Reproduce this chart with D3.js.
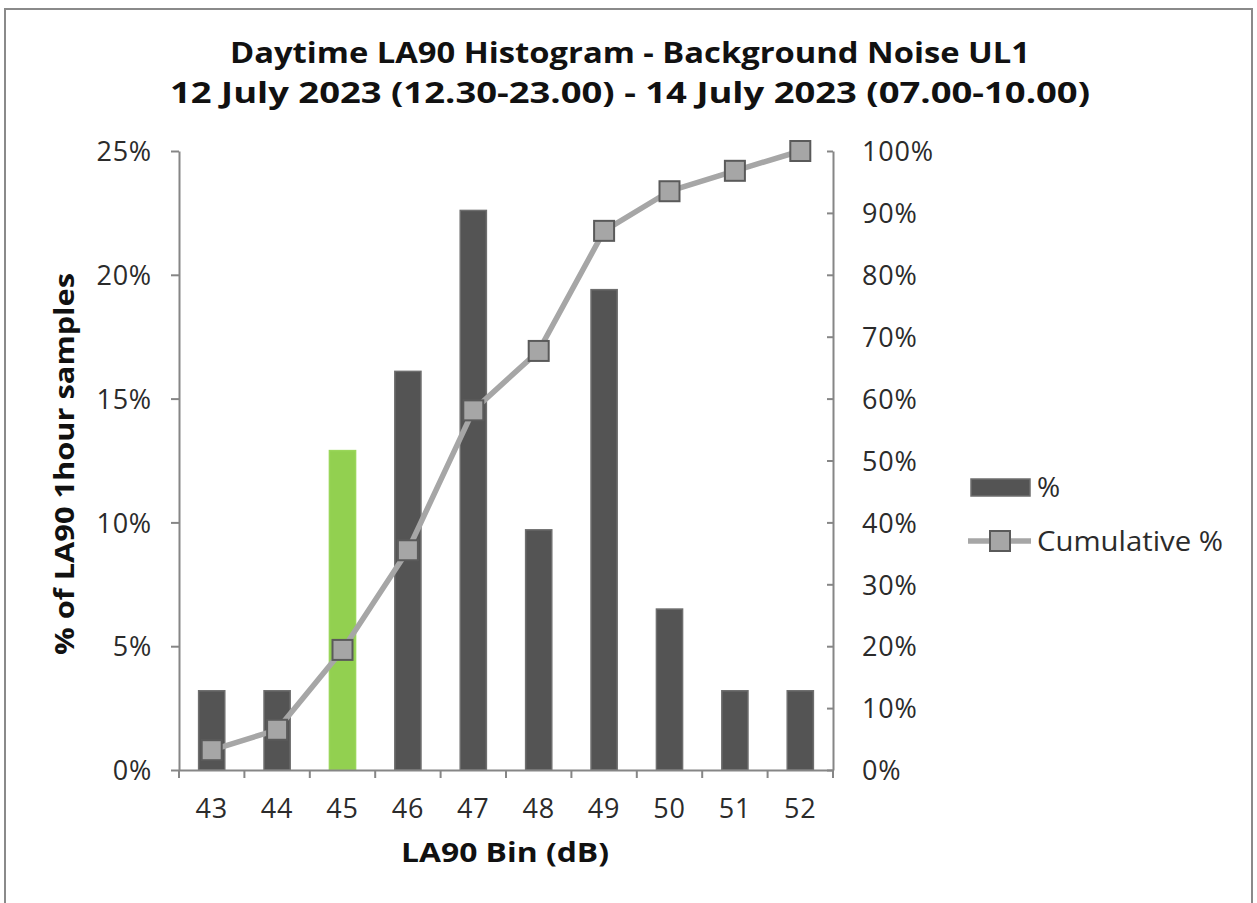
<!DOCTYPE html>
<html>
<head>
<meta charset="utf-8">
<script src="https://cdn.jsdelivr.net/npm/d3@7"></script>
<style>
  html, body { margin: 0; padding: 0; background: #fff; }
  svg { display: block; }
</style>
</head>
<body>
<svg id="chart" width="1257" height="903"></svg>
<script>
// LA90 bins (dB) and share of 1-hour samples per bin
const bins = ["43", "44", "45", "46", "47", "48", "49", "50", "51", "52"];
const pct = [3.2, 3.2, 12.9, 16.1, 22.6, 9.7, 19.4, 6.5, 3.2, 3.2];
const cumulative = [3.2, 6.5, 19.4, 35.5, 58.1, 67.7, 87.1, 93.5, 96.8, 100];
const highlightBin = "45";
const leftTicks = [0, 5, 10, 15, 20, 25];
const rightTicks = [0, 10, 20, 30, 40, 50, 60, 70, 80, 90, 100];
const titleLines = ["Daytime LA90 Histogram - Background Noise UL1",
                    "12 July 2023 (12.30-23.00) - 14 July 2023 (07.00-10.00)"];

const svg = d3.select("#chart");
const axisGrey = "#868686";
const textCol = "#2b2b2b";
const tickFont = "'Open Sans', Lato, sans-serif";
const boldFont = "'Open Sans', Lato, sans-serif";
const tickSize = 27;

// outer chart frame
svg.append("rect")
  .attr("x", 5).attr("y", 9).attr("width", 1247).attr("height", 910)
  .attr("fill", "#fff").attr("stroke", "#8a8a8a").attr("stroke-width", 2);

const plot = { left: 179, right: 833, top: 151, bottom: 770 };

const x = d3.scaleBand().domain(bins).range([plot.left, plot.right]).paddingInner(0.6).paddingOuter(0.3);
const xBand = d3.scaleBand().domain(bins).range([plot.left, plot.right]);
const yL = d3.scaleLinear().domain([0, 25]).range([plot.bottom, plot.top]);
const yR = d3.scaleLinear().domain([0, 100]).range([plot.bottom, plot.top]);

// title
svg.append("g").selectAll("text").data(titleLines).join("text")
  .attr("x", 630).attr("y", (d, i) => i === 0 ? 63 : 103)
  .attr("text-anchor", "middle")
  .attr("font-family", boldFont).attr("font-weight", 700)
  .attr("font-size", 28).attr("fill", "#111")
  .attr("textLength", (d, i) => i === 0 ? 800 : 920)
  .attr("lengthAdjust", "spacingAndGlyphs")
  .text(d => d);

// bars
svg.append("g").selectAll("rect").data(bins).join("rect")
  .attr("x", d => x(d))
  .attr("width", x.bandwidth())
  .attr("y", (d, i) => yL(pct[i]))
  .attr("height", (d, i) => yL(0) - yL(pct[i]))
  .attr("fill", d => d === highlightBin ? "#92d050" : "#545454")
  .attr("stroke", d => d === highlightBin ? "#9ad65a" : "#6e6e6e")
  .attr("stroke-width", 1.5);

// left axis
const leftAxis = svg.append("g").attr("transform", `translate(${plot.left},0)`)
  .call(d3.axisLeft(yL).tickValues(leftTicks).tickFormat(d => d + "%").tickSize(8).tickPadding(19).tickSizeOuter(0));
// right axis (ticks drawn towards the plot)
const rightAxis = svg.append("g").attr("transform", `translate(${plot.right},0)`)
  .call(d3.axisRight(yR).tickValues(rightTicks).tickFormat(d => d + "%").tickSize(-6).tickPadding(29).tickSizeOuter(0));
// bottom axis with ticks on category boundaries
const bottomAxis = svg.append("g").attr("transform", `translate(0,${plot.bottom})`)
  .call(d3.axisBottom(x).tickSize(0).tickPadding(0));
bottomAxis.append("g").selectAll("line").data(bins.concat(["end"])).join("line")
  .attr("x1", (d, i) => i < bins.length ? xBand(d) : plot.right)
  .attr("x2", (d, i) => i < bins.length ? xBand(d) : plot.right)
  .attr("y1", 0).attr("y2", 8)
  .attr("stroke", axisGrey).attr("stroke-width", 2);

[leftAxis, rightAxis, bottomAxis].forEach(g => {
  g.select(".domain").attr("stroke", axisGrey).attr("stroke-width", 2);
  g.selectAll(".tick line").attr("stroke", axisGrey).attr("stroke-width", 2);
  g.selectAll(".tick text").attr("font-family", tickFont).attr("font-size", tickSize)
    .attr("fill", textCol).attr("letter-spacing", 0.8);
});
leftAxis.selectAll(".tick text").attr("dy", "0.36em");
rightAxis.selectAll(".tick text").attr("dy", "0.36em");
bottomAxis.selectAll(".tick text").attr("y", 48).attr("dy", 0);

// cumulative line
const line = d3.line()
  .x((d, i) => xBand(bins[i]) + xBand.bandwidth() / 2)
  .y(d => yR(d));
svg.append("path").datum(cumulative)
  .attr("d", line).attr("fill", "none")
  .attr("stroke", "#a6a6a6").attr("stroke-width", 5.5).attr("stroke-linejoin", "round");

const m = 20;
svg.append("g").selectAll("rect").data(cumulative).join("rect")
  .attr("x", (d, i) => xBand(bins[i]) + xBand.bandwidth() / 2 - m / 2)
  .attr("y", d => yR(d) - m / 2)
  .attr("width", m).attr("height", m)
  .attr("fill", "#a6a6a6").attr("stroke", "#5a5a5a").attr("stroke-width", 2);

// axis titles
svg.append("text")
  .attr("x", 505).attr("y", 862).attr("text-anchor", "middle")
  .attr("font-family", boldFont).attr("font-weight", 700).attr("font-size", 26).attr("fill", "#111")
  .attr("textLength", 208).attr("lengthAdjust", "spacingAndGlyphs")
  .text("LA90 Bin (dB)");
svg.append("text")
  .attr("transform", "translate(74,464) rotate(-90)").attr("text-anchor", "middle")
  .attr("font-family", boldFont).attr("font-weight", 700).attr("font-size", 26).attr("fill", "#111")
  .attr("textLength", 382).attr("lengthAdjust", "spacingAndGlyphs")
  .text("% of LA90 1hour samples");

// legend
const legend = svg.append("g");
legend.append("rect").attr("x", 971).attr("y", 479).attr("width", 59).attr("height", 17)
  .attr("fill", "#545454").attr("stroke", "#6e6e6e").attr("stroke-width", 1.5);
legend.append("text").attr("x", 1037).attr("y", 487).attr("dy", "0.36em")
  .attr("font-family", tickFont).attr("font-size", 28).attr("fill", textCol).text("%");
legend.append("line").attr("x1", 968).attr("x2", 1031).attr("y1", 541).attr("y2", 541)
  .attr("stroke", "#a6a6a6").attr("stroke-width", 5.5);
legend.append("rect").attr("x", 990).attr("y", 531).attr("width", m).attr("height", m)
  .attr("fill", "#a6a6a6").attr("stroke", "#5a5a5a").attr("stroke-width", 2);
legend.append("text").attr("x", 1037).attr("y", 541).attr("dy", "0.36em")
  .attr("font-family", tickFont).attr("font-size", 28).attr("fill", textCol)
  .attr("textLength", 186).attr("lengthAdjust", "spacingAndGlyphs")
  .text("Cumulative %");
</script>
</body>
</html>
